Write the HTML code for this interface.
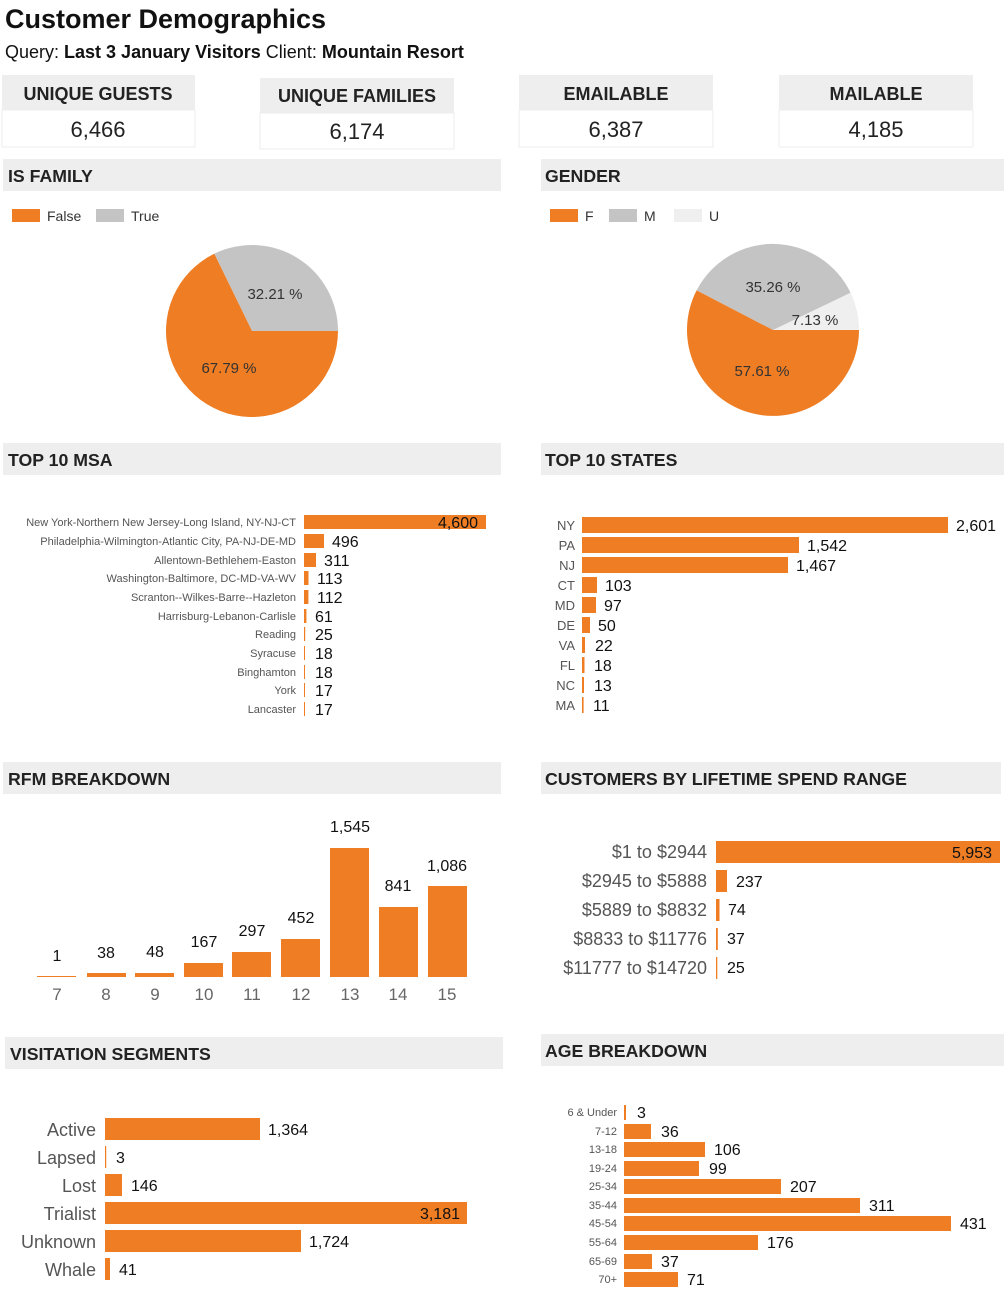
<!DOCTYPE html>
<html><head><meta charset="utf-8"><style>
body{margin:0;background:#fff;}
svg{display:block;font-family:"Liberation Sans",sans-serif;}
</style></head><body>
<svg width="1008" height="1301" viewBox="0 0 1008 1301" xmlns="http://www.w3.org/2000/svg">
<text x="5" y="28" font-size="27" font-weight="bold" fill="#111">Customer Demographics</text>
<text x="5" y="58" font-size="18" fill="#111">Query: <tspan font-weight="bold">Last 3 January Visitors</tspan> Client: <tspan font-weight="bold">Mountain Resort</tspan></text>

<g font-size="18" font-weight="bold" fill="#222" text-anchor="middle">
<rect x="2" y="75" width="193" height="35" fill="#eee"/><rect x="2" y="110" width="193" height="37" fill="#fff" stroke="#eee"/>
<text x="98" y="100">UNIQUE GUESTS</text><text x="98" y="137" font-weight="normal" font-size="22">6,466</text>
<rect x="260" y="78" width="194" height="35" fill="#eee"/><rect x="260" y="113" width="194" height="36" fill="#fff" stroke="#eee"/>
<text x="357" y="102">UNIQUE FAMILIES</text><text x="357" y="139" font-weight="normal" font-size="22">6,174</text>
<rect x="519" y="75" width="194" height="35" fill="#eee"/><rect x="519" y="110" width="194" height="37" fill="#fff" stroke="#eee"/>
<text x="616" y="100">EMAILABLE</text><text x="616" y="137" font-weight="normal" font-size="22">6,387</text>
<rect x="779" y="75" width="194" height="35" fill="#eee"/><rect x="779" y="110" width="194" height="37" fill="#fff" stroke="#eee"/>
<text x="876" y="100">MAILABLE</text><text x="876" y="137" font-weight="normal" font-size="22">4,185</text>
</g>

<g fill="#eee">
<rect x="3" y="159" width="498" height="32"/><rect x="541" y="159" width="463" height="32"/>
<rect x="3" y="443" width="498" height="32"/><rect x="541" y="443" width="463" height="32"/>
<rect x="3" y="762" width="498" height="32"/><rect x="541" y="762" width="460" height="32"/>
<rect x="5" y="1037" width="498" height="32"/><rect x="541" y="1034" width="463" height="32"/>
</g>
<g font-size="17.7" font-weight="bold" fill="#222">
<text x="8" y="182">IS FAMILY</text><text x="545" y="182">GENDER</text>
<text x="8" y="466">TOP 10 MSA</text><text x="545" y="466">TOP 10 STATES</text>
<text x="8" y="785">RFM BREAKDOWN</text><text x="545" y="785">CUSTOMERS BY LIFETIME SPEND RANGE</text>
<text x="10" y="1060">VISITATION SEGMENTS</text><text x="545" y="1057">AGE BREAKDOWN</text>
</g>

<g font-size="14" fill="#333">
<rect x="12" y="209" width="28" height="13" fill="#ee7d24"/><text x="47" y="221">False</text>
<rect x="96" y="209" width="28" height="13" fill="#c4c4c4"/><text x="131" y="221">True</text>
<rect x="550" y="209" width="28" height="13" fill="#ee7d24"/><text x="585" y="221">F</text>
<rect x="609" y="209" width="28" height="13" fill="#c4c4c4"/><text x="644" y="221">M</text>
<rect x="674" y="209" width="28" height="13" fill="#efefef"/><text x="709" y="221">U</text>
</g>

<path d="M252,331 L338,331 A86,86 0 0,0 214.3,253.7 Z" fill="#c4c4c4"/>
<path d="M252,331 L214.3,253.7 A86,86 0 1,0 338,331 Z" fill="#ee7d24"/>
<text x="275" y="299" font-size="15" fill="#333" text-anchor="middle">32.21 %</text>
<text x="229" y="373" font-size="15" fill="#333" text-anchor="middle">67.79 %</text>

<path d="M773,330 L859,330 A86,86 0 0,0 850.5,292.7 Z" fill="#efefef"/>
<path d="M773,330 L850.5,292.7 A86,86 0 0,0 696.6,290.4 Z" fill="#c4c4c4"/>
<path d="M773,330 L696.6,290.4 A86,86 0 1,0 859,330 Z" fill="#ee7d24"/>
<text x="773" y="292" font-size="15" fill="#333" text-anchor="middle">35.26 %</text>
<text x="815" y="325" font-size="15" fill="#333" text-anchor="middle">7.13 %</text>
<text x="762" y="376" font-size="15" fill="#333" text-anchor="middle">57.61 %</text>

<g font-size="11" fill="#555" text-anchor="end">
<text x="296" y="526">New York-Northern New Jersey-Long Island, NY-NJ-CT</text>
<text x="296" y="545">Philadelphia-Wilmington-Atlantic City, PA-NJ-DE-MD</text>
<text x="296" y="564">Allentown-Bethlehem-Easton</text>
<text x="296" y="582">Washington-Baltimore, DC-MD-VA-WV</text>
<text x="296" y="601">Scranton--Wilkes-Barre--Hazleton</text>
<text x="296" y="620">Harrisburg-Lebanon-Carlisle</text>
<text x="296" y="638">Reading</text>
<text x="296" y="657">Syracuse</text>
<text x="296" y="676">Binghamton</text>
<text x="296" y="694">York</text>
<text x="296" y="713">Lancaster</text>
</g>
<g fill="#ee7d24">
<rect x="304" y="515" width="182" height="14"/><rect x="304" y="534" width="20" height="14"/>
<rect x="304" y="553" width="12" height="14"/><rect x="304" y="571" width="4.5" height="14"/>
<rect x="304" y="590" width="4.4" height="14"/><rect x="304" y="609" width="2.4" height="14"/>
<rect x="304" y="627" width="1.2" height="14"/><rect x="304" y="646" width="1" height="14"/>
<rect x="304" y="665" width="1" height="14"/><rect x="304" y="683" width="1" height="14"/>
<rect x="304" y="702" width="1" height="14"/>
</g>
<g font-size="16" fill="#111">
<text x="478" y="528" text-anchor="end">4,600</text>
<text x="332" y="547">496</text><text x="324" y="566">311</text><text x="317" y="584">113</text>
<text x="317" y="603">112</text><text x="315" y="622">61</text><text x="315" y="640">25</text>
<text x="315" y="659">18</text><text x="315" y="678">18</text><text x="315" y="696">17</text><text x="315" y="715">17</text>
</g>

<g font-size="13" fill="#555" text-anchor="end">
<text x="575" y="530">NY</text><text x="575" y="550">PA</text><text x="575" y="570">NJ</text><text x="575" y="590">CT</text>
<text x="575" y="610">MD</text><text x="575" y="630">DE</text><text x="575" y="650">VA</text><text x="575" y="670">FL</text>
<text x="575" y="690">NC</text><text x="575" y="710">MA</text>
</g>
<g fill="#ee7d24">
<rect x="582" y="517" width="366" height="16"/><rect x="582" y="537" width="217" height="16"/>
<rect x="582" y="557" width="206" height="16"/><rect x="582" y="577" width="15" height="16"/>
<rect x="582" y="597" width="14" height="16"/><rect x="582" y="617" width="8" height="16"/>
<rect x="582" y="637" width="3" height="16"/><rect x="582" y="657" width="2.5" height="16"/>
<rect x="582" y="677" width="2" height="16"/><rect x="582" y="697" width="1.6" height="16"/>
</g>
<g font-size="16" fill="#111">
<text x="956" y="531">2,601</text><text x="807" y="551">1,542</text><text x="796" y="571">1,467</text>
<text x="605" y="591">103</text><text x="604" y="611">97</text><text x="598" y="631">50</text>
<text x="595" y="651">22</text><text x="594" y="671">18</text><text x="594" y="691">13</text><text x="593" y="711">11</text>
</g>

<g fill="#ee7d24">
<rect x="37" y="976" width="39" height="1"/>
<rect x="87" y="973" width="39" height="4"/>
<rect x="135" y="973" width="39" height="4"/>
<rect x="184" y="963" width="39" height="14"/>
<rect x="232" y="952" width="39" height="25"/>
<rect x="281" y="939" width="39" height="38"/>
<rect x="330" y="848" width="39" height="129"/>
<rect x="379" y="907" width="39" height="70"/>
<rect x="428" y="886" width="39" height="91"/>
</g>
<g font-size="16" fill="#111" text-anchor="middle">
<text x="57" y="961">1</text><text x="106" y="958">38</text><text x="155" y="957">48</text>
<text x="204" y="947">167</text><text x="252" y="936">297</text><text x="301" y="923">452</text>
<text x="350" y="832">1,545</text><text x="398" y="891">841</text><text x="447" y="871">1,086</text>
</g>
<g font-size="17" fill="#666" text-anchor="middle">
<text x="57" y="1000">7</text><text x="106" y="1000">8</text><text x="155" y="1000">9</text>
<text x="204" y="1000">10</text><text x="252" y="1000">11</text><text x="301" y="1000">12</text>
<text x="350" y="1000">13</text><text x="398" y="1000">14</text><text x="447" y="1000">15</text>
</g>

<g font-size="18" fill="#555" text-anchor="end">
<text x="707" y="858">$1 to $2944</text><text x="707" y="887">$2945 to $5888</text>
<text x="707" y="916">$5889 to $8832</text><text x="707" y="945">$8833 to $11776</text>
<text x="707" y="974">$11777 to $14720</text>
</g>
<g fill="#ee7d24">
<rect x="716" y="841" width="284" height="22"/><rect x="716" y="870" width="11" height="22"/>
<rect x="716" y="899" width="3.5" height="22"/><rect x="716" y="928" width="1.8" height="22"/>
<rect x="716" y="957" width="1.3" height="22"/>
</g>
<g font-size="16" fill="#111">
<text x="992" y="858" text-anchor="end">5,953</text><text x="736" y="887">237</text>
<text x="728" y="915">74</text><text x="727" y="944">37</text><text x="727" y="973">25</text>
</g>

<g font-size="18" fill="#555" text-anchor="end">
<text x="96" y="1136">Active</text><text x="96" y="1164">Lapsed</text><text x="96" y="1192">Lost</text>
<text x="96" y="1220">Trialist</text><text x="96" y="1248">Unknown</text><text x="96" y="1276">Whale</text>
</g>
<g fill="#ee7d24">
<rect x="105" y="1118" width="155" height="22"/><rect x="105" y="1146" width="1.2" height="22"/>
<rect x="105" y="1174" width="17" height="22"/><rect x="105" y="1202" width="362" height="22"/>
<rect x="105" y="1230" width="196" height="22"/><rect x="105" y="1258" width="5" height="22"/>
</g>
<g font-size="16" fill="#111">
<text x="268" y="1135">1,364</text><text x="116" y="1163">3</text><text x="131" y="1191">146</text>
<text x="460" y="1219" text-anchor="end">3,181</text><text x="309" y="1247">1,724</text><text x="119" y="1275">41</text>
</g>

<g font-size="11" fill="#555" text-anchor="end">
<text x="617" y="1116">6 &amp; Under</text><text x="617" y="1135">7-12</text><text x="617" y="1153">13-18</text>
<text x="617" y="1172">19-24</text><text x="617" y="1190">25-34</text><text x="617" y="1209">35-44</text>
<text x="617" y="1227">45-54</text><text x="617" y="1246">55-64</text><text x="617" y="1265">65-69</text>
<text x="617" y="1283">70+</text>
</g>
<g fill="#ee7d24">
<rect x="624" y="1105" width="2" height="15"/><rect x="624" y="1124" width="27" height="15"/>
<rect x="624" y="1142" width="81" height="15"/><rect x="624" y="1161" width="75" height="15"/>
<rect x="624" y="1179" width="157" height="15"/><rect x="624" y="1198" width="236" height="15"/>
<rect x="624" y="1216" width="327" height="15"/><rect x="624" y="1235" width="134" height="15"/>
<rect x="624" y="1254" width="28" height="15"/><rect x="624" y="1272" width="54" height="15"/>
</g>
<g font-size="16" fill="#111">
<text x="637" y="1118">3</text><text x="661" y="1137">36</text><text x="714" y="1155">106</text>
<text x="709" y="1174">99</text><text x="790" y="1192">207</text><text x="869" y="1211">311</text>
<text x="960" y="1229">431</text><text x="767" y="1248">176</text><text x="661" y="1267">37</text>
<text x="687" y="1285">71</text>
</g>
</svg>
</body></html>
